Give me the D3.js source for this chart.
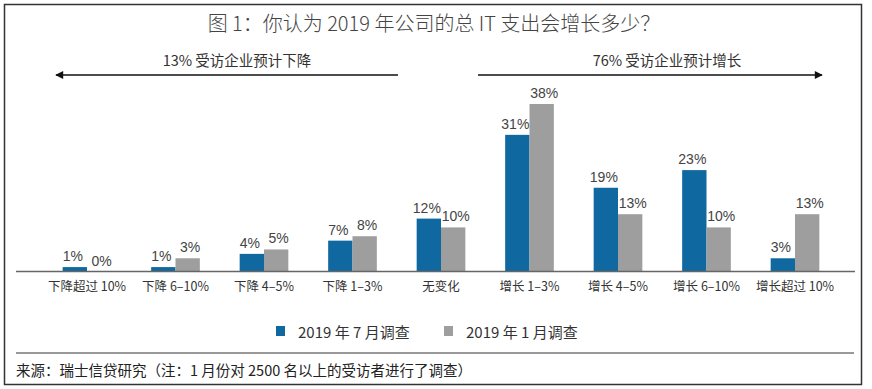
<!DOCTYPE html>
<html>
<head>
<meta charset="utf-8">
<script src="https://cdn.jsdelivr.net/npm/d3@7"></script>
<style>
  body { margin: 0; background: #fff; }
  svg text { font-family: "Noto Sans CJK SC", "Liberation Sans", sans-serif; }
</style>
</head>
<body>
<svg id="chart" width="872" height="389"></svg>
<script>
// chart data
const categories = ["下降超过 10%", "下降 6–10%", "下降 4–5%", "下降 1–3%", "无变化",
  "增长 1–3%", "增长 4–5%", "增长 6–10%", "增长超过 10%"];
const julySurvey = [1, 1, 4, 7, 12, 31, 19, 23, 3];
const janSurvey = [0, 3, 5, 8, 10, 38, 13, 10, 13];
const seriesNames = ["2019 年 7 月调查", "2019 年 1 月调查"];
const arrowLabels = ["13% 受访企业预计下降", "76% 受访企业预计增长"];
const titleText = "图 1：你认为 2019 年公司的总 IT 支出会增长多少？";
const sourceText = "来源：瑞士信贷研究（注：1 月份对 2500 名以上的受访者进行了调查）";

const colors = ["#0f68a0", "#9e9e9e"];

const svg = d3.select("#chart");

//Outer frame
svg.append("rect")
  .attr("x", 4.5).attr("y", 4.5)
  .attr("width", 857).attr("height", 380)
  .attr("fill", "none").attr("stroke", "#333").attr("stroke-width", 1.5);

//Title
svg.append("text")
  .attr("x", 434).attr("y", 31)
  .attr("text-anchor", "middle")
  .attr("font-size", 20).attr("font-weight", 300)
  .attr("fill", "#444")
  .text(titleText);

//Arrows showing decrease / increase
const defs = svg.append("defs");
defs.append("marker")
  .attr("id", "head")
  .attr("viewBox", "0 0 10 10")
  .attr("refX", 9).attr("refY", 5)
  .attr("markerWidth", 14).attr("markerHeight", 8)
  .attr("markerUnits", "userSpaceOnUse")
  .attr("orient", "auto")
  .append("path").attr("d", "M0,0 L10,5 L0,10 z").attr("fill", "#111");

const arrowY = 75;
svg.append("line")
  .attr("x1", 398).attr("x2", 56).attr("y1", arrowY).attr("y2", arrowY)
  .attr("stroke", "#111").attr("stroke-width", 1.6)
  .attr("marker-end", "url(#head)");
svg.append("line")
  .attr("x1", 478).attr("x2", 822).attr("y1", arrowY).attr("y2", arrowY)
  .attr("stroke", "#111").attr("stroke-width", 1.6)
  .attr("marker-end", "url(#head)");

svg.selectAll(".arrow-label")
  .data(arrowLabels)
  .join("text")
  .attr("class", "arrow-label")
  .attr("x", (d, i) => (i === 0 ? 237 : 667))
  .attr("y", 66)
  .attr("text-anchor", "middle")
  .attr("font-size", 14.5).attr("fill", "#333")
  .text((d) => d);

//Scales
const x = d3.scaleBand()
  .domain(categories)
  .range([42.75, 839.25])
  .paddingInner(0.45)
  .paddingOuter(0.225);

const xSub = d3.scaleBand()
  .domain([0, 1])
  .range([0, x.bandwidth()]);

const baseY = 271.5;
const y = d3.scaleLinear().domain([0, 38]).range([baseY, 104]);

const rows = categories.map((c, i) => ({ cat: c, vals: [julySurvey[i], janSurvey[i]] }));

const groups = svg.selectAll(".grp")
  .data(rows)
  .join("g")
  .attr("class", "grp")
  .attr("transform", (d) => "translate(" + x(d.cat) + ",0)");

groups.selectAll("rect")
  .data((d) => d.vals)
  .join("rect")
  .attr("x", (d, i) => xSub(i))
  .attr("y", (d) => y(d))
  .attr("width", xSub.bandwidth())
  .attr("height", (d) => baseY - y(d))
  .attr("fill", (d, i) => colors[i]);

//Value labels, nudged apart a little so neighbours do not collide
groups.selectAll(".val")
  .data((d) => d.vals)
  .join("text")
  .attr("class", "val")
  .attr("x", (d, i) => xSub(i) + xSub.bandwidth() / 2 + (i === 0 ? -2 : 2.5))
  .attr("y", (d) => y(d) - 6)
  .attr("text-anchor", "middle")
  .style("font-family", "'Liberation Sans', sans-serif")
  .attr("font-size", 14)
  .attr("fill", "#444")
  .text((d) => d + "%");

//Baseline axis
const axis = svg.append("g")
  .attr("transform", "translate(0," + baseY + ")")
  .call(d3.axisBottom(x).tickSize(0).tickPadding(11));
axis.select(".domain")
  .attr("d", "M16,0H855")
  .attr("stroke", "#666").attr("stroke-width", 1.6);
axis.selectAll(".tick text")
  .style("font-family", "'Liberation Sans Narrow', 'Noto Sans CJK SC', sans-serif")
  .attr("font-size", 12.5)
  .attr("fill", "#333");

//Legend
const legend = svg.append("g").attr("transform", "translate(276,325)");
const legendX = [0, 168];
legend.selectAll("rect")
  .data(seriesNames)
  .join("rect")
  .attr("x", (d, i) => legendX[i])
  .attr("y", 1)
  .attr("width", 9).attr("height", 10)
  .attr("fill", (d, i) => colors[i]);
legend.selectAll("text")
  .data(seriesNames)
  .join("text")
  .attr("x", (d, i) => legendX[i] + 22)
  .attr("y", 13)
  .attr("font-size", 15).attr("fill", "#333")
  .text((d) => d);

//Source line and separator
svg.append("line")
  .attr("x1", 16).attr("x2", 854).attr("y1", 353).attr("y2", 353)
  .attr("stroke", "#777").attr("stroke-width", 1.5);
svg.append("text")
  .attr("x", 16).attr("y", 376)
  .attr("font-size", 14.5).attr("fill", "#222")
  .text(sourceText);
</script>
</body>
</html>
